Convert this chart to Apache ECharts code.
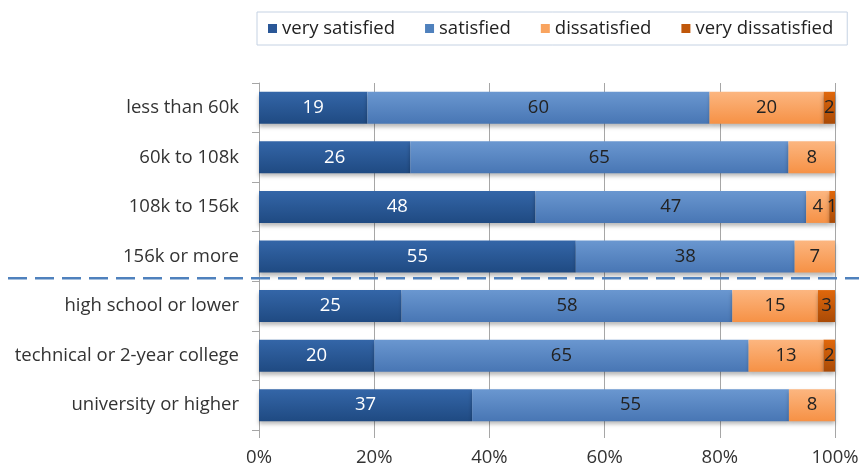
<!DOCTYPE html>
<html>
<head>
<meta charset="utf-8">
<script src="https://cdn.jsdelivr.net/npm/echarts@6/dist/echarts.min.js"></script>
<style>html,body{margin:0;padding:0;background:#fff;}#c{width:859px;height:469px;}</style>
</head>
<body>
<div id="c"></div>
<script>
var categories = ["less than 60k","60k to 108k","108k to 156k","156k or more","high school or lower","technical or 2-year college","university or higher"];
var seriesNames = ["very satisfied","satisfied","dissatisfied","very dissatisfied"];
var verySatisfied = [19,26,48,55,25,20,37];
var satisfied = [60,65,47,38,58,65,55];
var dissatisfied = [20,8,4,7,15,13,8];
var veryDissatisfied = [2,0,1,0,3,2,0];
var xTicks = ["0%","20%","40%","60%","80%","100%"];

var raw = [verySatisfied, satisfied, dissatisfied, veryDissatisfied];
var totals = categories.map(function(_, i){ return raw.reduce(function(s, a){ return s + a[i]; }, 0); });

var FONT = 'Open Sans';
var FS = 18.5;
var grads = [
  ['#3466a8','#1f4a82'],
  ['#6a97d0','#4876b4'],
  ['#fcb680','#f69145'],
  ['#e0680c','#a94a06']
];
var legendColors = ['#2a5797','#4f81bd','#f9a45f','#c0570a'];
var labelColors = ['#ffffff','#222222','#222222','#222222'];

function grad(c){
  return new echarts.graphic.LinearGradient(0,0,0,1,[{offset:0,color:c[0]},{offset:1,color:c[1]}]);
}

var series = seriesNames.map(function(name, k){
  return {
    name: name,
    type: 'bar',
    stack: 'total',
    barWidth: 32,
    itemStyle: { color: grad(grads[k]), shadowColor: 'rgba(0,0,0,0.28)', shadowBlur: 4, shadowOffsetY: 3 },
    label: {
      show: true, position: 'inside', color: labelColors[k], fontFamily: FONT, fontSize: FS,
      formatter: function(p){ return p.data.raw ? String(p.data.raw) : ''; }
    },
    data: raw[k].map(function(v, i){ return { value: v / totals[i] * 100, raw: v }; })
  };
});

var chart = echarts.init(document.getElementById('c'));
chart.setOption({
  animation: false,
  color: legendColors,
  legend: {
    left: 257, top: 12,
    padding: [7, 14, 7, 11],
    borderColor: '#c5d2e3', borderWidth: 1,
    itemWidth: 9, itemHeight: 9, itemGap: 30,
    icon: 'rect',
    textStyle: { fontFamily: FONT, fontSize: FS, color: '#222' },
    data: seriesNames.map(function(n, k){ return { name: n, itemStyle: { color: legendColors[k] } }; })
  },
  grid: { left: 259, right: 24, top: 83, bottom: 39, outerBoundsMode: 'none', containLabel: false },
  xAxis: {
    type: 'value', min: 0, max: 100, interval: 20,
    axisLine: { show: false },
    axisTick: { show: true, length: 8, lineStyle: { color: '#a6a6a6' } },
    splitLine: { show: true, lineStyle: { color: '#a6a6a6' } },
    axisLabel: { fontFamily: FONT, fontSize: FS, color: '#333', margin: 18,
      formatter: function(v){ return xTicks[Math.round(v / 20)]; } }
  },
  yAxis: {
    type: 'category', inverse: true, data: categories,
    axisLine: { show: true, lineStyle: { color: '#a6a6a6' } },
    axisTick: { show: true, length: 7, lineStyle: { color: '#a6a6a6' } },
    axisLabel: { fontFamily: FONT, fontSize: FS, color: '#333', margin: 20 }
  },
  series: series
});

var yA = chart.convertToPixel({yAxisIndex: 0}, categories[3]);
var yB = chart.convertToPixel({yAxisIndex: 0}, categories[4]);
var yMid = (yA + yB) / 2 - 3;
chart.setOption({
  graphic: [{
    type: 'line', z: 100,
    shape: { x1: 8, y1: yMid, x2: 859, y2: yMid },
    style: { stroke: '#4f81bd', lineWidth: 2.5, lineDash: [19, 8] }
  }]
});
</script>
</body>
</html>
